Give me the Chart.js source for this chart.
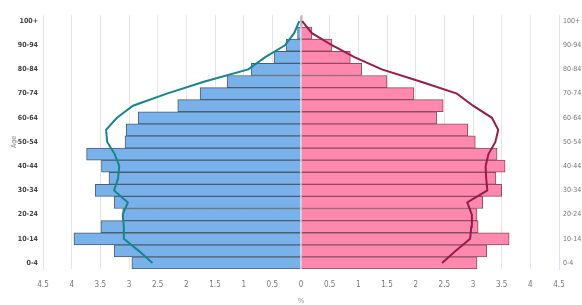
<!DOCTYPE html>
<html>
<head>
<meta charset="utf-8">
<script src="https://cdn.jsdelivr.net/npm/chart.js@4"></script>
<style>
  html, body { margin: 0; padding: 0; background: #fff; }
  #wrap { width: 582px; height: 305px; position: relative; }
</style>
</head>
<body>
<div id="wrap"><canvas id="piramide"></canvas></div>
<script>
// faixas etarias, de baixo para cima
const idades = ['0-4', '5-9', '10-14', '15-19', '20-24', '25-29', '30-34', '35-39', '40-44', '45-49',
  '50-54', '55-59', '60-64', '65-69', '70-74', '75-79', '80-84', '85-89', '90-94', '95-99', '100+'];

// percentuais (homens ficam do lado esquerdo)
const homens = [2.95, 3.26, 3.96, 3.49, 3.11, 3.26, 3.59, 3.35, 3.48, 3.74,
  3.07, 3.05, 2.84, 2.15, 1.76, 1.29, 0.87, 0.47, 0.26, 0.06, 0.01];
const mulheres = [3.07, 3.24, 3.63, 3.09, 3.07, 3.17, 3.50, 3.40, 3.56, 3.42,
  3.04, 2.91, 2.37, 2.48, 1.97, 1.50, 1.06, 0.86, 0.54, 0.19, 0.02];

// linhas de comparacao
const linhaHomens = [2.59, 2.83, 3.09, 3.09, 3.11, 3.02, 3.26, 3.19, 3.17, 3.25,
  3.38, 3.40, 3.21, 2.93, 2.34, 1.68, 0.92, 0.63, 0.28, 0.12, 0.03];
const linhaMulheres = [2.46, 2.70, 2.95, 2.97, 2.98, 2.90, 3.25, 3.23, 3.22, 3.27,
  3.39, 3.44, 3.33, 3.00, 2.72, 2.08, 1.41, 0.94, 0.54, 0.19, 0.02];

// fonte estreita: o "weight" vai direto pra string do canvas, entao da pra por o condensed ali
const fonte = "'DejaVu Sans', sans-serif";

const ctx = document.getElementById('piramide').getContext('2d');
let piramide = new Chart(ctx, {
  type: 'bar',
  data: {
    labels: idades,
    datasets: [
      {
        type: 'line',
        data: linhaHomens.map(v => -v),
        borderColor: '#16858f',
        borderWidth: 2,
        pointRadius: 0,
        fill: false,
        order: 0
      },
      {
        type: 'line',
        data: linhaMulheres,
        borderColor: '#9a1a4c',
        borderWidth: 2,
        pointRadius: 0,
        fill: false,
        order: 0
      },
      {
        data: homens.map(v => -v),
        backgroundColor: '#79b1ea',
        borderColor: '#4d5d70',
        borderWidth: 1,
        barPercentage: 1,
        categoryPercentage: 1,
        order: 1
      },
      {
        data: mulheres,
        backgroundColor: '#ff89ae',
        borderColor: '#8c4d63',
        borderWidth: 1,
        barPercentage: 1,
        categoryPercentage: 1,
        order: 1
      }
    ]
  },
  options: {
    indexAxis: 'y',
    responsive: true,
    maintainAspectRatio: false,
    animation: false,
    layout: { padding: { top: 15, right: 0, left: 0, bottom: 0 } },
    plugins: { legend: { display: false }, tooltip: { enabled: false } },
    scales: {
      x: {
        min: -4.5,
        max: 4.5,
        afterFit: s => { s.height = 36; },
        ticks: {
          stepSize: 0.5,
          color: '#777',
          font: { family: fonte, size: 8, weight: 'condensed' },
          padding: 11,
          callback: v => Math.abs(v)
        },
        grid: { color: '#e6e6e6', drawTicks: false },
        border: { display: false },
        title: { display: true, text: '%', color: '#999', font: { family: fonte, size: 7 }, padding: { top: 0, bottom: 0 } }
      },
      y: {
        stacked: true,
        reverse: true,
        afterFit: s => { s.width = 43; },
        ticks: {
          color: '#444',
          font: { family: fonte, size: 7, weight: 'bold condensed' },
          autoSkip: false,
          padding: 5,
          callback: function (v, i) { return i % 2 === 0 ? this.getLabelForValue(v) : ''; }
        },
        grid: { display: false, drawTicks: false },
        border: { display: true, color: '#dde3ec' },
        title: { display: true, text: 'Age', color: '#888', font: { family: fonte, size: 7, weight: 'condensed' }, padding: { top: 10, bottom: 0 } }
      },
      y2: {
        type: 'category',
        labels: idades,
        position: 'right',
        reverse: true,
        offset: true,
        afterFit: s => { s.width = 23; },
        ticks: {
          color: '#777',
          font: { family: fonte, size: 7, weight: 'condensed' },
          autoSkip: false,
          padding: 4,
          callback: function (v, i) { return i % 2 === 0 ? this.getLabelForValue(v) : ''; }
        },
        grid: { display: false, drawTicks: false },
        border: { display: true, color: '#dde3ec' }
      }
    }
  }
});
</script>
</body>
</html>
